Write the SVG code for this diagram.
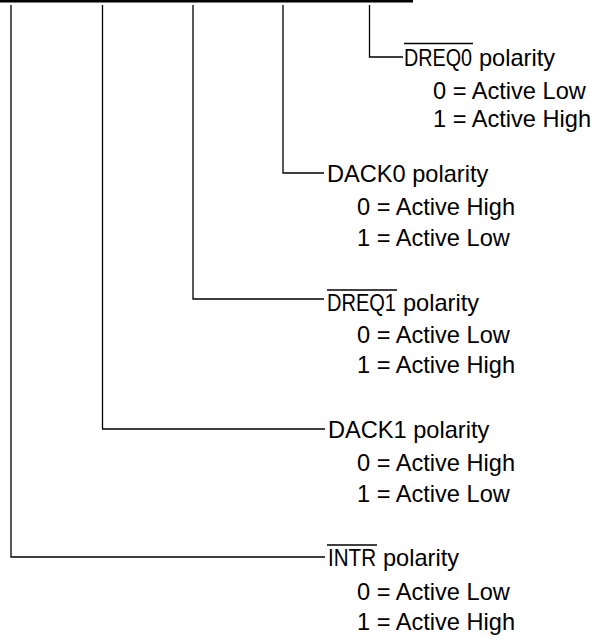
<svg xmlns="http://www.w3.org/2000/svg" width="604" height="639" viewBox="0 0 604 639">
<style>
.t{font-family:"Liberation Sans",Arial,sans-serif;font-size:23.6px;fill:#000}
.w{stroke:#000;stroke-width:1.3;fill:none}
.ov{stroke:#000;stroke-width:1.3}
</style>
<rect width="604" height="639" fill="#fff"/>
<g id="connectors">
<line x1="0" y1="1.2" x2="413" y2="1.2" stroke="#000" stroke-width="2.8"/>
<polyline class="w" points="369.5,5 369.5,57 403,57"/>
<polyline class="w" points="283,5 283,173 324,173"/>
<polyline class="w" points="193,5 193,299 324,299"/>
<polyline class="w" points="102.5,5 102.5,429 325,429"/>
<polyline class="w" points="11,5 11,557 325,557"/>
</g>
<g id="dreq0">
<line class="ov" x1="404" y1="43.5" x2="473" y2="43.5"/>
<text class="t" x="404" y="65.5" textLength="68" lengthAdjust="spacingAndGlyphs">DREQ0</text>
<text class="t" x="479" y="65.5">polarity</text>
<text class="t" x="433" y="98.5">0 = Active Low</text>
<text class="t" x="433" y="127">1 = Active High</text>
</g>
<g id="dack0">
<text class="t" x="327" y="182">DACK0 polarity</text>
<text class="t" x="357" y="215">0 = Active High</text>
<text class="t" x="357" y="246">1 = Active Low</text>
</g>
<g id="dreq1">
<line class="ov" x1="327" y1="290" x2="397" y2="290"/>
<text class="t" x="327" y="311" textLength="69" lengthAdjust="spacingAndGlyphs">DREQ1</text>
<text class="t" x="403" y="311">polarity</text>
<text class="t" x="357" y="343">0 = Active Low</text>
<text class="t" x="357" y="373">1 = Active High</text>
</g>
<g id="dack1">
<text class="t" x="328" y="438">DACK1 polarity</text>
<text class="t" x="357" y="471">0 = Active High</text>
<text class="t" x="357" y="502">1 = Active Low</text>
</g>
<g id="intr">
<line class="ov" x1="327" y1="545" x2="377" y2="545"/>
<text class="t" x="328" y="566" textLength="48" lengthAdjust="spacingAndGlyphs">INTR</text>
<text class="t" x="383" y="566">polarity</text>
<text class="t" x="357" y="600">0 = Active Low</text>
<text class="t" x="357" y="630">1 = Active High</text>
</g>
</svg>
